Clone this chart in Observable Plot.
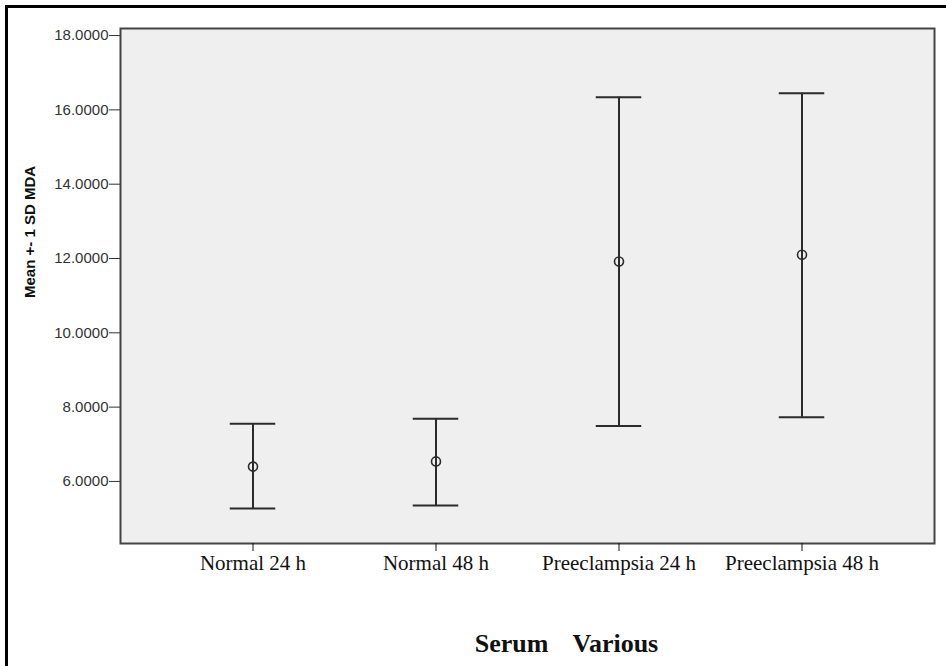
<!DOCTYPE html>
<html><head><meta charset="utf-8">
<script src="https://cdn.jsdelivr.net/npm/d3@7"></script>
<script src="https://cdn.jsdelivr.net/npm/@observablehq/plot@0.6"></script>
<style>
html,body{margin:0;padding:0;background:#fff;overflow:hidden;width:946px;height:666px;}
#wrap{position:relative;width:946px;height:666px;overflow:hidden;}
#border{position:absolute;left:5px;top:5px;width:1000px;height:1000px;border-left:3px solid #000;border-top:3px solid #000;}
#wrap svg{position:absolute;left:0;top:0;}
</style></head><body><div id="wrap"><div id="border"></div></div>
<script>
const groups = ["Normal 24 h", "Normal 48 h", "Preeclampsia 24 h", "Preeclampsia 48 h"];
const means = [6.40, 6.54, 11.92, 12.10];
const lower = [5.27, 5.35, 7.49, 7.73];
const upper = [7.55, 7.69, 16.34, 16.45];
const yTicks = [6, 8, 10, 12, 14, 16, 18];
const yLabel = "Mean +- 1 SD MDA";
const xLabel = "Serum Various";

const data = groups.map((g, i) => ({group: g, mean: means[i], lo: lower[i], hi: upper[i]}));
const ink = "#2b2b2b";
const W = 946, ML = 120, MR = 12;
const outer = 0.218;
const step = (W - ML - MR) / (groups.length + 2 * outer);
const capInset = (step - 46) / 2;
const sans = "Liberation Sans, Arial, sans-serif";
const serif = "Liberation Serif, Times New Roman, serif";

const chart = Plot.plot({
  width: W, height: 666,
  marginLeft: ML, marginRight: MR, marginTop: 28, marginBottom: 123,
  style: {background: "transparent", overflow: "visible"},
  x: {type: "band", domain: groups, paddingInner: 0, paddingOuter: outer},
  y: {domain: [4.33, 18.19]},
  marks: [
    Plot.frame({fill: "#efefef"}),
    Plot.ruleX(data, {x: "group", y1: "lo", y2: "hi", stroke: ink, strokeWidth: 2}),
    Plot.tickY(data, {x: "group", y: "lo", insetLeft: capInset, insetRight: capInset, stroke: ink, strokeWidth: 2}),
    Plot.tickY(data, {x: "group", y: "hi", insetLeft: capInset, insetRight: capInset, stroke: ink, strokeWidth: 2}),
    Plot.dot(data, {x: "group", y: "mean", r: 4.5, stroke: ink, strokeWidth: 1.6, fill: "none"}),
    Plot.frame({stroke: "#444", strokeWidth: 2}),
    Plot.axisY({ticks: yTicks, tickFormat: d3.format(".4f"), tickSize: 11, tickPadding: 1, fontSize: 15, fontFamily: sans, label: null, color: "#333"}),
    Plot.axisX({tickSize: 8, tickPadding: 4, fontSize: 21, fontFamily: serif, label: null, color: "#111"}),
    Plot.text([yLabel], {frameAnchor: "left", textAnchor: "middle", rotate: -90, dx: -90, dy: -54, fontWeight: "bold", fontSize: 15, fontFamily: sans, fill: "#111"}),
    Plot.text([xLabel], {frameAnchor: "bottom", textAnchor: "middle", dx: 39, dy: 108, fontWeight: "bold", fontSize: 26, fontFamily: serif, fill: "#111"})
  ]
});
document.getElementById("wrap").appendChild(chart);
d3.select(chart).selectAll("text").filter(function() { return this.textContent === xLabel; }).style("word-spacing", "18px");
</script>
</body></html>
